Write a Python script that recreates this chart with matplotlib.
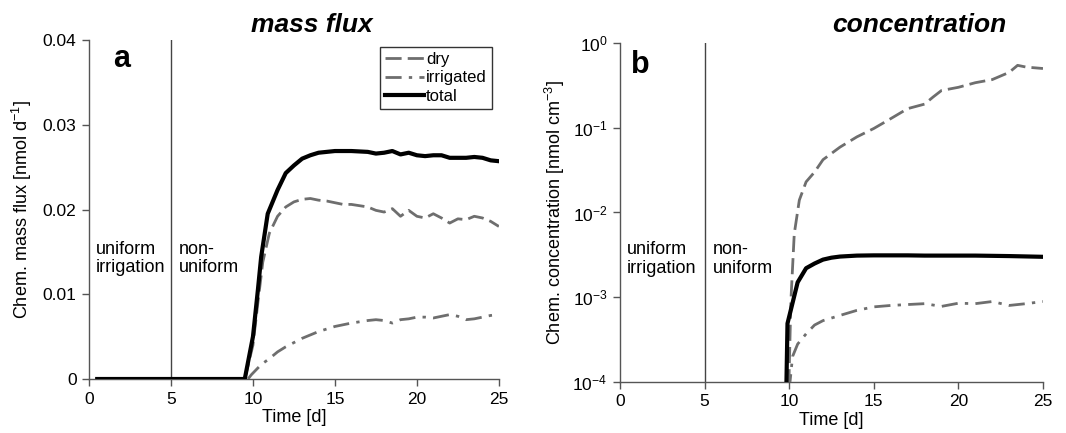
import matplotlib
matplotlib.use("Agg")
import matplotlib.pyplot as plt
import numpy as np

plt.rcParams['font.family'] = ['Liberation Sans', 'DejaVu Sans']
plt.rcParams['mathtext.fontset'] = 'custom'
plt.rcParams['mathtext.rm'] = 'Liberation Sans'
plt.rcParams['mathtext.it'] = 'Liberation Sans:italic'

# ---- Panel a: mass flux ----
a_total_t = [0.5, 9.5, 10.0, 10.3, 10.5, 10.9, 11.5, 12.0, 12.5, 13.0, 13.5, 14.0, 15.0, 16.0, 17.0,
             17.5, 18.0, 18.5, 19.0, 19.5, 20.0, 20.5, 21.0, 21.5, 22.0, 23.0, 23.5, 24.0, 24.5, 25.0]
a_total = [0.0, 0.0, 0.005, 0.0105, 0.0144, 0.0195, 0.0223, 0.0243, 0.0252, 0.0260, 0.0264, 0.0267,
           0.0269, 0.0269, 0.0268, 0.0266, 0.0267, 0.0269, 0.0265, 0.0267, 0.0264, 0.0263, 0.0264,
           0.0264, 0.0261, 0.0261, 0.0262, 0.0261, 0.0258, 0.0257]

a_dry_t = [9.5, 10.0, 10.3, 10.6, 11.0, 11.5, 12.0, 12.5, 13.0, 13.5, 14.0, 14.5, 15.0, 15.5, 16.0,
           17.0, 17.5, 18.0, 18.5, 19.0, 19.5, 20.0, 20.5, 21.0, 21.5, 22.0, 22.5, 23.0, 23.5, 24.0,
           24.5, 25.0]
a_dry = [0.0, 0.004, 0.009, 0.0138, 0.0172, 0.0192, 0.0203, 0.0209, 0.0212, 0.0213, 0.0211, 0.0210,
         0.0208, 0.0206, 0.0206, 0.0203, 0.0199, 0.0197, 0.0201, 0.0192, 0.0199, 0.0192, 0.0190,
         0.0195, 0.0190, 0.0184, 0.0189, 0.0188, 0.0192, 0.0190, 0.0186, 0.0180]

a_irr_t = [9.7, 9.9, 10.5, 11.0, 11.5, 12.0, 13.0, 14.0, 15.0, 16.0, 17.0, 17.5, 18.0, 18.5, 19.0,
           19.5, 20.0, 20.5, 21.0, 21.5, 22.0, 22.5, 23.0, 23.5, 24.0, 24.5, 25.0]
a_irr = [0.0, 0.0005, 0.0017, 0.0024, 0.0032, 0.0038, 0.0048, 0.0056, 0.0062, 0.0066, 0.0069, 0.0070,
         0.0069, 0.0066, 0.0070, 0.0071, 0.0073, 0.0073, 0.0072, 0.0074, 0.0076, 0.0074, 0.0070,
         0.0071, 0.0073, 0.0075, 0.0076]

# ---- Panel b: concentration ----
b_total_t = [9.75, 9.9, 10.5, 11.0, 11.5, 12.0, 12.5, 13.0, 14.0, 15.0, 16.0, 17.0, 18.0, 19.0,
             20.0, 21.0, 22.0, 23.0, 24.0, 25.0]
b_total = [1e-5, 4.9e-4, 1.5e-3, 2.2e-3, 2.5e-3, 2.78e-3, 2.93e-3, 3.02e-3, 3.1e-3, 3.12e-3, 3.12e-3,
           3.12e-3, 3.1e-3, 3.1e-3, 3.1e-3, 3.1e-3, 3.08e-3, 3.06e-3, 3.03e-3, 3.0e-3]

b_dry_t = [9.95, 10.1, 10.3, 10.6, 11.0, 11.5, 12.0, 13.0, 14.0, 15.0, 16.0, 17.0, 18.0, 18.5, 19.0,
           20.0, 21.0, 22.0, 23.0, 23.5, 24.0, 25.0]
b_dry = [5e-5, 9e-4, 5.6e-3, 1.4e-2, 2.3e-2, 3.0e-2, 4.2e-2, 5.9e-2, 7.8e-2, 9.8e-2, 0.128, 0.168,
         0.19, 0.23, 0.275, 0.30, 0.34, 0.37, 0.45, 0.545, 0.52, 0.50]

b_irr_t = [10.0, 10.2, 10.5, 11.0, 11.5, 12.0, 13.0, 14.0, 15.0, 16.0, 17.0, 18.0, 19.0, 20.0, 21.0,
           22.0, 23.0, 24.0, 25.0]
b_irr = [8e-5, 2.0e-4, 2.8e-4, 3.7e-4, 4.7e-4, 5.3e-4, 6.1e-4, 7.0e-4, 7.7e-4, 8.0e-4, 8.2e-4, 8.4e-4,
         7.8e-4, 8.5e-4, 8.4e-4, 8.9e-4, 8.0e-4, 8.4e-4, 8.9e-4]

x_ticks = [0, 5, 10, 15, 20, 25]
a_yticks = [0, 0.01, 0.02, 0.03, 0.04]
a_yticklabels = ["0", "0.01", "0.02", "0.03", "0.04"]
b_yticks = [1e-4, 1e-3, 1e-2, 1e-1, 1e0]
b_yticklabels = [r"10$^{-4}$", r"10$^{-3}$", r"10$^{-2}$", r"10$^{-1}$", r"10$^{0}$"]

gray = '#6e6e6e'
spine_col = '#555555'
dash_dry = (5.8, 2.2)
dash_irr = (5.8, 2.6, 1.2, 2.6)

fig = plt.figure(figsize=(10.66, 4.33), dpi=100)
ax1 = fig.add_axes([0.0835, 0.1247, 0.3845, 0.7829])
ax2 = fig.add_axes([0.5816, 0.1178, 0.3968, 0.7829])

for ax, ty in ((ax1, 0.355), (ax2, 0.363)):
    for s in ('top', 'right'):
        ax.spines[s].set_visible(False)
    for s in ('left', 'bottom'):
        ax.spines[s].set_color(spine_col)
        ax.spines[s].set_linewidth(1.0)
    ax.tick_params(direction='out', length=5, width=1, color=spine_col, labelsize=12.5, pad=4)
    ax.set_xlim(0, 25)
    ax.set_xticks(x_ticks)
    ax.set_xlabel("Time [d]", fontsize=13, labelpad=2)
    ax.axvline(5, color='#444444', lw=1.0, zorder=1)
    ax.text(0.017, ty, "uniform\nirrigation", transform=ax.transAxes, fontsize=13,
            va='center', ha='left', linespacing=1.1)
    ax.text(0.22, ty, "non-\nuniform", transform=ax.transAxes, fontsize=13,
            va='center', ha='left', linespacing=1.1)

# Panel a
ax1.plot(a_dry_t, a_dry, color=gray, lw=2.0, dashes=dash_dry, label='dry', zorder=3)
ax1.plot(a_irr_t, a_irr, color=gray, lw=2.0, dashes=dash_irr, label='irrigated', zorder=3)
ax1.plot(a_total_t, a_total, color='black', lw=3.0, label='total', zorder=4)
ax1.set_ylim(0, 0.04)
ax1.set_yticks(a_yticks)
ax1.set_yticklabels(a_yticklabels)
ax1.set_ylabel(r"Chem. mass flux [nmol d$^{-1}$]", fontsize=13, labelpad=6)
ax1.text(0.058, 0.945, "a", transform=ax1.transAxes, fontsize=22, fontweight='bold', va='center')
ax1.set_title("mass flux", fontsize=19, fontweight='bold', style='italic', x=0.544, pad=6)
leg = ax1.legend(loc='upper right', bbox_to_anchor=(0.983, 0.979), fontsize=12, frameon=True,
                 fancybox=False, edgecolor='black', handlelength=2.35, handletextpad=0.15,
                 labelspacing=0.2, borderpad=0.3, borderaxespad=0.0)
leg.get_frame().set_linewidth(1.0)

# Panel b
ax2.plot(b_dry_t, b_dry, color=gray, lw=2.0, dashes=dash_dry, zorder=3)
ax2.plot(b_irr_t, b_irr, color=gray, lw=2.0, dashes=dash_irr, zorder=3)
ax2.plot(b_total_t, b_total, color='black', lw=3.0, zorder=4)
ax2.set_yscale('log')
ax2.set_ylim(1e-4, 1e0)
ax2.set_yticks(b_yticks)
ax2.set_yticklabels(b_yticklabels)
ax2.yaxis.set_minor_locator(matplotlib.ticker.NullLocator())
ax2.set_ylabel(r"Chem. concentration [nmol cm$^{-3}$]", fontsize=13, labelpad=4)
ax2.text(0.025, 0.935, "b", transform=ax2.transAxes, fontsize=22, fontweight='bold', va='center')
ax2.set_title("concentration", fontsize=19, fontweight='bold', style='italic', x=0.708, pad=8)

fig.savefig("out.png", dpi=100)
